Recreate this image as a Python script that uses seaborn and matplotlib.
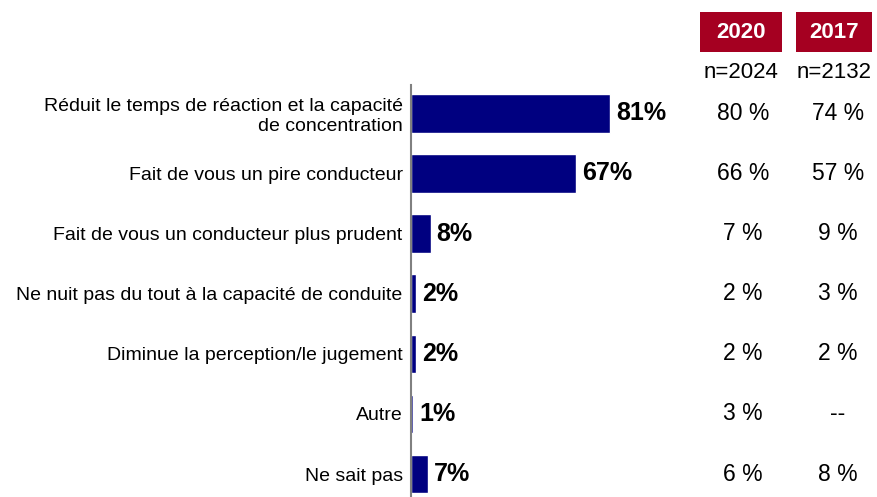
import numpy as np
import pandas as pd
import seaborn as sns
import matplotlib.pyplot as plt
from matplotlib.patches import Rectangle

categories = [
    "Réduit le temps de réaction et la capacité\nde concentration",
    "Fait de vous un pire conducteur",
    "Fait de vous un conducteur plus prudent",
    "Ne nuit pas du tout à la capacité de conduite",
    "Diminue la perception/le jugement",
    "Autre",
    "Ne sait pas",
]
values_2020 = [81, 67, 8, 2, 2, 1, 7]
col_2020 = ["80 %", "66 %", "7 %", "2 %", "2 %", "3 %", "6 %"]
col_2017 = ["74 %", "57 %", "9 %", "3 %", "2 %", "--", "8 %"]
headers = ["2020", "2017"]
sample_sizes = ["n=2024", "n=2132"]

df = pd.DataFrame({"category": categories, "value": values_2020})

sns.set_style("white", {"text.color": "black", "ytick.color": "black"})
plt.rcParams["font.family"] = ["Liberation Sans", "DejaVu Sans"]

fig = plt.figure(figsize=(8.77, 4.97), dpi=100)
ax = fig.add_axes([411 / 877, 0, 246 / 877, 1 - 85 / 497])

sns.barplot(data=df, x="value", y="category", color="#000080", saturation=1,
            width=0.64, ax=ax)
ax.set_xlim(0, 100)
ax.set_ylim(6.38, -0.47)
ax.set_xlabel("")
ax.set_ylabel("")
ax.set_xticks([])
ax.tick_params(axis="y", length=0, pad=6, labelsize=14, labelcolor="black")
for s in ["top", "right", "bottom"]:
    ax.spines[s].set_visible(False)
ax.spines["left"].set_color("#808080")
ax.spines["left"].set_linewidth(1.5)

for lab in ax.get_yticklabels():
    lab.set_horizontalalignment("right")
    lab.set_multialignment("right")

# bold value labels next to the bars
for i, v in enumerate(values_2020):
    ax.text(v + 2.4, i, f"{v}%", va="center", ha="left", fontsize=18,
            fontweight="bold", color="black")

# right-hand comparison columns
col_x = [743 / 877, 838 / 877]
for cx, col in zip(col_x, [col_2020, col_2017]):
    for i, txt in enumerate(col):
        yf = ax.transData.transform((0, i))[1] / fig.bbox.height
        fig.text(cx, yf, txt, ha="center", va="center", fontsize=16.5,
                 color="black")

box_x = [(700, 782), (796, 872)]
for (x0, x1), h, n in zip(box_x, headers, sample_sizes):
    fig.patches.append(Rectangle((x0 / 877, 1 - 52 / 497), (x1 - x0) / 877,
                                 40 / 497, transform=fig.transFigure,
                                 facecolor="#A50021", edgecolor="none"))
    fig.text((x0 + x1) / 2 / 877, 1 - 32 / 497, h, ha="center", va="center",
             fontsize=16, fontweight="bold", color="white")
    fig.text((x0 + x1) / 2 / 877, 1 - 73 / 497, n, ha="center", va="center",
             fontsize=16, color="black")

fig.savefig("out.png", dpi=100)
